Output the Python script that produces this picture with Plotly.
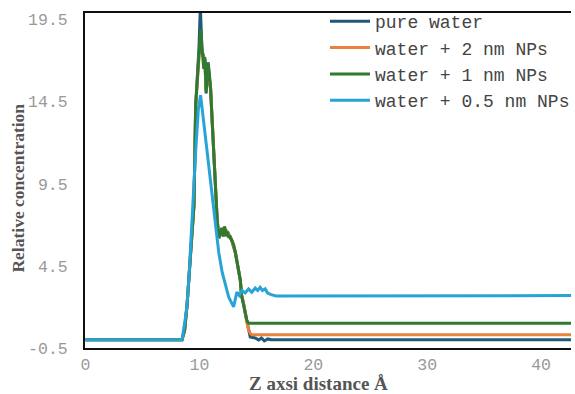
import plotly.graph_objects as go

names = ["pure water", "water + 2 nm NPs", "water + 1 nm NPs", "water + 0.5 nm NPs"]
colors = ["#1F5A7A", "#E8823F", "#2F7A2F", "#27A3D6"]

# pure water
x_pure = [0, 8.47, 8.7, 8.91, 9.52, 9.67, 9.96, 10.08, 10.22, 10.48, 10.59, 10.77, 10.98, 11.09,
          11.26, 11.41, 11.55, 11.70, 11.96, 12.09, 12.28, 12.48, 12.66, 12.83, 13.15, 13.29,
          13.44, 13.59, 13.70, 13.87, 14.16, 14.31, 14.46, 14.9, 15.2, 15.45, 15.7, 16.0, 16.3, 43]
y_pure = [0, 0, 0.6, 2.1, 8.2, 14.3, 17.8, 20.3, 17.6, 17.0, 15.0, 16.7, 15.2, 13.6,
          11.2, 9.2, 7.4, 6.2, 6.8, 6.3, 6.7, 6.5, 6.3, 6.05, 5.3, 4.8,
          4.1, 3.6, 2.7, 2.2, 1.15, 0.6, 0.17, 0.11, -0.01, 0.11, -0.07, 0.05, 0.0, 0.0]

# water + 2 nm NPs
x_2nm = [0, 8.47, 8.7, 8.91, 9.52, 9.67, 9.96, 10.1, 10.22, 10.48, 10.59, 10.77, 10.98, 11.09,
         11.26, 11.41, 11.55, 11.70, 11.96, 12.09, 12.28, 12.48, 12.66, 12.83, 13.15, 13.29,
         13.44, 13.59, 13.70, 13.87, 14.16, 14.31, 14.46, 14.6, 43]
y_2nm = [0, 0, 0.6, 2.1, 8.2, 14.2, 17.2, 18.3, 17.5, 16.9, 15.1, 16.6, 15.3, 13.7,
         11.3, 9.3, 7.4, 6.2, 6.8, 6.3, 6.7, 6.55, 6.3, 6.1, 5.35, 4.85,
         4.1, 3.65, 2.75, 2.25, 1.1, 0.6, 0.4, 0.3, 0.3]

# water + 1 nm NPs
x_1nm = [0, 8.47, 8.7, 8.91, 9.52, 9.67, 9.96, 10.13, 10.22, 10.38, 10.48, 10.59, 10.77, 10.9, 10.98,
         11.09, 11.26, 11.41, 11.55, 11.70, 11.85, 11.96, 12.09, 12.2, 12.28, 12.4, 12.48, 12.58,
         12.66, 12.83, 13.0, 13.15, 13.29, 13.44, 13.59, 13.70, 13.87, 14.16, 14.31, 43]
y_1nm = [0, 0, 0.6, 2.1, 8.2, 14.3, 17.4, 18.9, 17.8, 16.5, 17.2, 15.1, 16.9, 16.0, 15.35,
         13.7, 11.3, 9.3, 7.4, 6.2, 6.6, 6.8, 6.3, 6.9, 6.7, 6.3, 6.6, 6.2,
         6.35, 6.1, 5.8, 5.35, 4.85, 4.1, 3.65, 2.7, 2.2, 1.2, 1.0, 1.0]

# water + 0.5 nm NPs
x_05nm = [0, 8.47, 8.74, 8.91, 9.08, 9.23, 9.37, 9.52, 9.67, 9.9, 10.1, 10.54, 10.98, 11.41,
          11.70, 12.0, 12.28, 12.57, 13.0, 13.15, 13.29, 13.5, 13.73, 14.02, 14.31, 14.6, 14.9,
          15.12, 15.33, 15.53, 15.77, 15.99, 16.29, 16.75, 43]
y_05nm = [0, 0, 1.2, 2.1, 3.8, 5.5, 7.5, 9.5, 11.5, 14.0, 14.9, 12.3, 9.6, 6.8,
          5.3, 4.1, 3.3, 2.6, 2.0, 2.4, 2.9, 2.7, 3.0, 2.85, 3.1, 2.9, 3.15,
          3.0, 3.2, 3.0, 3.1, 2.85, 2.75, 2.67, 2.69]

xs = [x_pure, x_2nm, x_1nm, x_05nm]
ys = [y_pure, y_2nm, y_1nm, y_05nm]

x_ticks = [0, 10, 20, 30, 40]
y_ticks = [-0.5, 4.5, 9.5, 14.5, 19.5]
y_tick_text = ["-0.5", "4.5", "9.5", "14.5", "19.5"]

fig = go.Figure()
for n, c, x, y in zip(names, colors, xs, ys):
    fig.add_trace(go.Scatter(x=x, y=y, mode="lines", name=n,
                             line=dict(color=c, width=3)))

tick_font = dict(family="Liberation Mono", size=16.5, color="#999999")
fig.update_layout(
    width=575, height=394,
    margin=dict(l=85, r=0, t=13, b=46),
    plot_bgcolor="white", paper_bgcolor="white",
    showlegend=True,
    legend=dict(x=0.494, y=1.03, xanchor="left", yanchor="top",
                font=dict(family="Liberation Mono", size=18, color="#444444"),
                bgcolor="rgba(0,0,0,0)", itemwidth=40, tracegroupgap=0),
    xaxis=dict(range=[-0.05, 42.63], tickvals=x_ticks, showgrid=False, zeroline=False,
               showline=True, linecolor="#111111", linewidth=2, mirror=True,
               ticks="", tickfont=tick_font),
    yaxis=dict(range=[-0.5, 19.9], tickvals=y_ticks, ticktext=y_tick_text,
               showgrid=False, zeroline=False, showline=True, linecolor="#111111",
               linewidth=2, ticks="", tickfont=tick_font, ticklabelstandoff=12),
    annotations=[
        dict(text="<b>Relative concentration</b>", xref="paper", yref="paper",
             x=(17 - 85) / 490, y=(348 - 188) / 335, textangle=-90, showarrow=False,
             font=dict(family="Liberation Serif", size=17.5, color="#555555"),
             xanchor="center", yanchor="middle"),
        dict(text="<b>Z axsi distance Å</b>", xref="paper", yref="paper",
             x=(320 - 85) / 490, y=-(383 - 348) / 335, showarrow=False,
             font=dict(family="Liberation Serif", size=19, color="#555555"),
             xanchor="center", yanchor="middle"),
    ],
)
fig.write_html("out.html")
